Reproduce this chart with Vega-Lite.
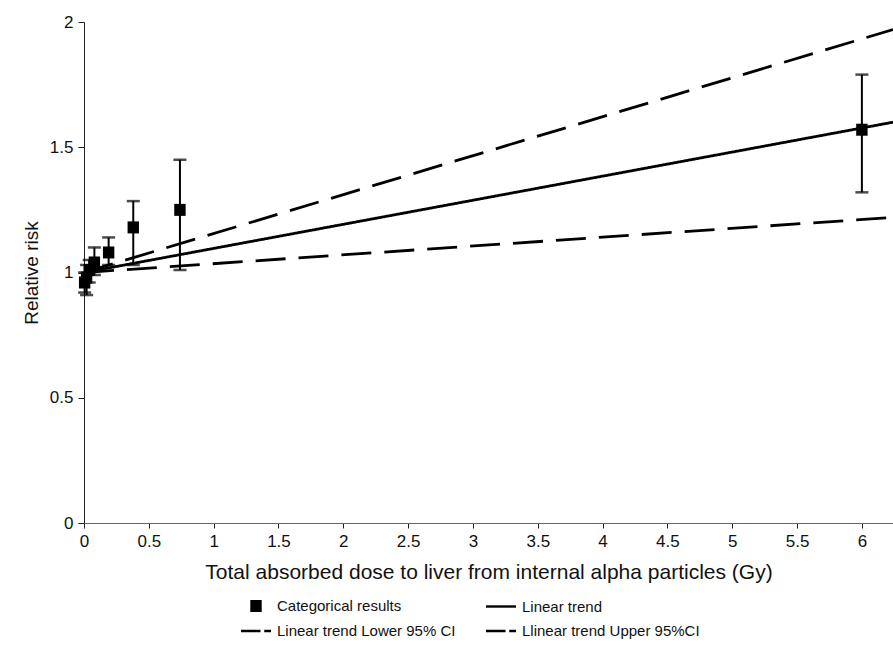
{
  "$schema": "https://vega.github.io/schema/vega-lite/v6.json",
  "width": 809,
  "height": 501,
  "autosize": {"type": "none"},
  "padding": {"left": 84, "top": 22, "right": 0, "bottom": 128},
  "background": "white",
  "config": {
    "view": {"stroke": null},
    "font": "Liberation Sans",
    "axis": {"grid": false, "domainColor": "#222", "tickColor": "#222", "labelColor": "#111", "titleColor": "#111", "labelFont": "Liberation Sans", "titleFont": "Liberation Sans", "titleFontWeight": "normal"}
  },
  "datasets": {
    "cats": [
      {"dose": 0.005, "rr": 0.96, "lo": 0.92, "hi": 1.0, "series": "Categorical results"},
      {"dose": 0.02, "rr": 0.98, "lo": 0.91, "hi": 1.03, "series": "Categorical results"},
      {"dose": 0.04, "rr": 1.01, "lo": 0.96, "hi": 1.05, "series": "Categorical results"},
      {"dose": 0.08, "rr": 1.04, "lo": 0.99, "hi": 1.1, "series": "Categorical results"},
      {"dose": 0.19, "rr": 1.08, "lo": 1.03, "hi": 1.14, "series": "Categorical results"},
      {"dose": 0.38, "rr": 1.18, "lo": 1.03, "hi": 1.285, "series": "Categorical results"},
      {"dose": 0.74, "rr": 1.25, "lo": 1.01, "hi": 1.45, "series": "Categorical results"},
      {"dose": 6.0, "rr": 1.57, "lo": 1.32, "hi": 1.79, "series": "Categorical results"}
    ],
    "trend": [
      {"dose": 0, "rr": 1.0, "series": "Linear trend"},
      {"dose": 6.24, "rr": 1.6, "series": "Linear trend"},
      {"dose": 0, "rr": 1.0, "series": "Linear trend Lower 95% CI"},
      {"dose": 6.24, "rr": 1.22, "series": "Linear trend Lower 95% CI"},
      {"dose": 0, "rr": 1.0, "series": "Llinear trend Upper 95%CI"},
      {"dose": 6.24, "rr": 1.97, "series": "Llinear trend Upper 95%CI"}
    ]
  },
  "layer": [
    {
      "data": {"name": "trend"},
      "mark": {"type": "line", "color": "black", "strokeWidth": 2.8, "clip": true},
      "encoding": {
        "x": {"field": "dose", "type": "quantitative", "scale": {"domain": [0, 6.24], "nice": false},
          "axis": {"title": "Total absorbed dose to liver from internal alpha particles (Gy)", "values": [0, 0.5, 1, 1.5, 2, 2.5, 3, 3.5, 4, 4.5, 5, 5.5, 6], "format": "~g", "labelFontSize": 17, "titleFontSize": 21, "tickSize": 5, "labelPadding": 5, "titlePadding": 12, "domainColor": "#666", "labelFlush": false}},
        "y": {"field": "rr", "type": "quantitative", "scale": {"domain": [0, 2], "nice": false},
          "axis": {"title": "Relative risk", "values": [0, 0.5, 1, 1.5, 2], "format": "~g", "labelFontSize": 17, "titleFontSize": 19, "tickSize": 6, "labelPadding": 5, "titlePadding": 8}},
        "detail": {"field": "series"},
        "strokeDash": {"field": "series", "type": "nominal", "legend": null,
          "scale": {"domain": ["Linear trend", "Linear trend Lower 95% CI", "Llinear trend Upper 95%CI"], "range": [[1, 0], [30, 13], [30, 13]]}}
      }
    },
    {
      "data": {"name": "cats"},
      "mark": {"type": "rule", "color": "black", "strokeWidth": 2},
      "encoding": {
        "x": {"field": "dose", "type": "quantitative"},
        "y": {"field": "lo", "type": "quantitative"},
        "y2": {"field": "hi"}
      }
    },
    {
      "data": {"name": "cats"},
      "mark": {"type": "tick", "color": "black", "orient": "horizontal", "size": 13, "thickness": 2.5},
      "encoding": {
        "x": {"field": "dose", "type": "quantitative"},
        "y": {"field": "lo", "type": "quantitative"}
      }
    },
    {
      "data": {"name": "cats"},
      "mark": {"type": "tick", "color": "black", "orient": "horizontal", "size": 13, "thickness": 2.5},
      "encoding": {
        "x": {"field": "dose", "type": "quantitative"},
        "y": {"field": "hi", "type": "quantitative"}
      }
    },
    {
      "data": {"name": "cats"},
      "mark": {"type": "point", "filled": true, "color": "black", "opacity": 1, "size": 900},
      "encoding": {
        "x": {"field": "dose", "type": "quantitative"},
        "y": {"field": "rr", "type": "quantitative"},
        "shape": {"field": "series", "type": "nominal",
          "scale": {"domain": ["Categorical results", "Linear trend Lower 95% CI", "Linear trend", "Llinear trend Upper 95%CI"],
            "range": ["M-0.38,-0.4H0.38V0.4H-0.38Z", "M-1,-0.08H0.3V0.08H-1ZM0.55,-0.08H1V0.08H0.55Z", "M-1,-0.08H1V0.08H-1Z", "M-1,-0.08H0.3V0.08H-1ZM0.55,-0.08H1V0.08H0.55Z"]},
          "legend": {"title": null, "orient": "none", "legendX": 156, "legendY": 568, "columns": 2, "columnPadding": 27, "rowPadding": -5,
            "labelFont": "Liberation Sans", "labelFontSize": 15, "labelColor": "#111", "labelOffset": 5, "labelLimit": 400, "symbolSize": 900,
            "encode": {"symbols": {"update": {"strokeWidth": {"value": 0}, "fill": {"value": "black"}, "opacity": {"value": 1}, "fillOpacity": {"value": 1}, "size": {"value": 900}}}}}
        }
      }
    }
  ]
}
